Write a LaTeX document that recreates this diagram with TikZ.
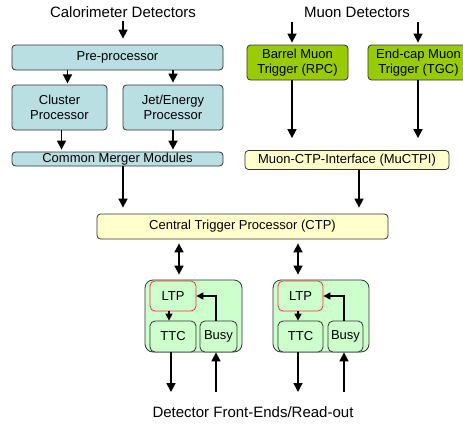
\documentclass[tikz,border=0pt]{standalone}
\usepackage{fontspec}
\setmainfont{Liberation Sans}
\usetikzlibrary{arrows.meta}
\definecolor{calofill}{HTML}{B9DFE3}
\definecolor{muonfill}{HTML}{99CC00}
\definecolor{yelfill}{HTML}{FFFFCC}
\definecolor{grpfill}{HTML}{CCFFCC}
\definecolor{ltpred}{HTML}{EE3333}
\begin{document}
\begin{tikzpicture}[x=1pt,y=-1pt,
  box/.style={draw=black!80, line width=0.8pt, rounded corners=3.5pt, inner sep=0pt, align=center,
    font=\fontsize{13}{15}\selectfont},
  calo/.style={box, fill=calofill},
  muon/.style={box, fill=muonfill},
  yel/.style={box, fill=yelfill},
  grp/.style={draw=black!80, line width=0.8pt, rounded corners=8pt, fill=grpfill, inner sep=0pt},
  sub/.style={box, fill=grpfill, rounded corners=5pt},
  ltpbox/.style={sub, draw=ltpred},
  hdr/.style={inner sep=0pt, font=\fontsize{15}{18}\selectfont},
  arr/.style={line width=1.6pt, -{Triangle[width=9pt,length=9pt]}},
  darr/.style={line width=1.6pt, {Triangle[width=9pt,length=9pt]}-{Triangle[width=9pt,length=9pt]}},
  sarr/.style={line width=1.3pt, -{Triangle[width=7pt,length=7pt]}}
]
\useasboundingbox (0,0) rectangle (463,423);

% headers
\node[hdr] (calotxt) at (123,12) {Calorimeter Detectors};
\node[hdr] (muontxt) at (357,12) {Muon Detectors};
\node[hdr] (fetxt) at (253,412) {Detector Front-Ends/Read-out};

% calorimeter side
\node[calo, minimum width=211pt, minimum height=25pt] (pre) at (117.5,57.5) {Pre-processor};
\node[calo, minimum width=95pt, minimum height=45pt] (clu) at (59.5,107.5) {Cluster\\Processor};
\node[calo, minimum width=100pt, minimum height=45pt] (jet) at (173,107.5) {Jet/Energy\\Processor};
\node[calo, minimum width=211pt, minimum height=14pt] (cmm) at (117.5,159) {Common Merger Modules};

% muon side
\node[muon, minimum width=101pt, minimum height=35pt] (barrel) at (297.5,62.5) {Barrel Muon\\Trigger (RPC)};
\node[muon, minimum width=101pt, minimum height=35pt] (endcap) at (418.5,62.5) {End-cap Muon\\Trigger (TGC)};
\node[yel, minimum width=204pt, minimum height=19pt] (mu) at (347,160) {Muon-CTP-Interface (MuCTPI)};

% CTP
\node[yel, minimum width=291pt, minimum height=25pt] (ctp) at (242.5,226.5) {Central Trigger Processor (CTP)};

% groups
\node[grp, minimum width=97pt, minimum height=72pt] (grp1) at (193.5,316) {};
\node[ltpbox, minimum width=46pt, minimum height=30pt] (ltp1) at (173,296) {LTP};
\node[sub, minimum width=46pt, minimum height=31pt] (ttc1) at (173,336.5) {TTC};
\node[sub, minimum width=37pt, minimum height=31pt] (busy1) at (218.5,336.5) {Busy};

\node[grp, minimum width=96pt, minimum height=72pt] (grp2) at (321,316) {};
\node[ltpbox, minimum width=45pt, minimum height=30pt] (ltp2) at (300.5,296) {LTP};
\node[sub, minimum width=45pt, minimum height=31pt] (ttc2) at (300.5,336.5) {TTC};
\node[sub, minimum width=35pt, minimum height=31pt] (busy2) at (345.5,336.5) {Busy};

% free ends
\coordinate (o1) at (171,392);
\coordinate (i1) at (216,392);
\coordinate (o2) at (298,392);
\coordinate (i2) at (344,392);

% calorimeter arrows
\draw[arr, shorten >=6pt] (calotxt.south) ++(0,3) -- (calotxt.south |- pre.north);
\draw[arr, shorten >=2pt] (clu.north |- pre.south) ++(8,0) -- ++(0,15);
\draw[arr, shorten >=2pt] (jet.north |- pre.south) -- (jet.north);
\draw[arr, shorten >=2pt] ([xshift=2pt]clu.south) -- ([xshift=2pt]clu.south |- cmm.north);
\draw[arr, shorten >=2pt] (jet.south) -- (jet.south |- cmm.north);
\draw[arr, shorten >=6pt] ([xshift=5.5pt]cmm.south) -- ([xshift=5.5pt]cmm.south |- ctp.north);

% muon arrows
\draw[arr, shorten >=2pt] (barrel.north) ++(-5.5,-23) -- ([xshift=-5.5pt]barrel.north);
\draw[arr, shorten >=2pt] (endcap.north) ++(-0.5,-23) -- ([xshift=-0.5pt]endcap.north);
\draw[arr, shorten >=12pt] ([xshift=-5.5pt]barrel.south) -- ([xshift=-5.5pt]barrel.south |- mu.north);
\draw[arr, shorten >=12pt] ([xshift=-0.5pt]endcap.south) -- ([xshift=-0.5pt]endcap.south |- mu.north);
\draw[arr, shorten >=6pt] ([xshift=12pt]mu.south) -- ([xshift=12pt]mu.south |- ctp.north);

% CTP <-> groups
\draw[darr, shorten <=4pt, shorten >=5pt] ([xshift=-14.5pt]grp1.north |- ctp.south) -- ([xshift=-14.5pt]grp1.north);
\draw[darr, shorten <=4pt, shorten >=5pt] ([xshift=-23pt]grp2.north |- ctp.south) -- ([xshift=-23pt]grp2.north);

% inside groups
\draw[sarr] ([xshift=-4pt]ltp1.south) -- ([xshift=-4pt]ltp1.south |- ttc1.north);
\draw[sarr] ([xshift=-2.5pt]busy1.north) |- (ltp1.east);
\draw[sarr] ([xshift=-2.5pt]ltp2.south) -- ([xshift=-2.5pt]ltp2.south |- ttc2.north);
\draw[sarr] ([xshift=-1.5pt]busy2.north) |- (ltp2.east);

% to/from front-ends
\draw[arr] (ttc1.south -| o1) -- (o1);
\draw[arr] (i1) -- (i1 |- busy1.south);
\draw[arr] (ttc2.south -| o2) -- (o2);
\draw[arr] (i2) -- (i2 |- busy2.south);
\end{tikzpicture}
\end{document}
